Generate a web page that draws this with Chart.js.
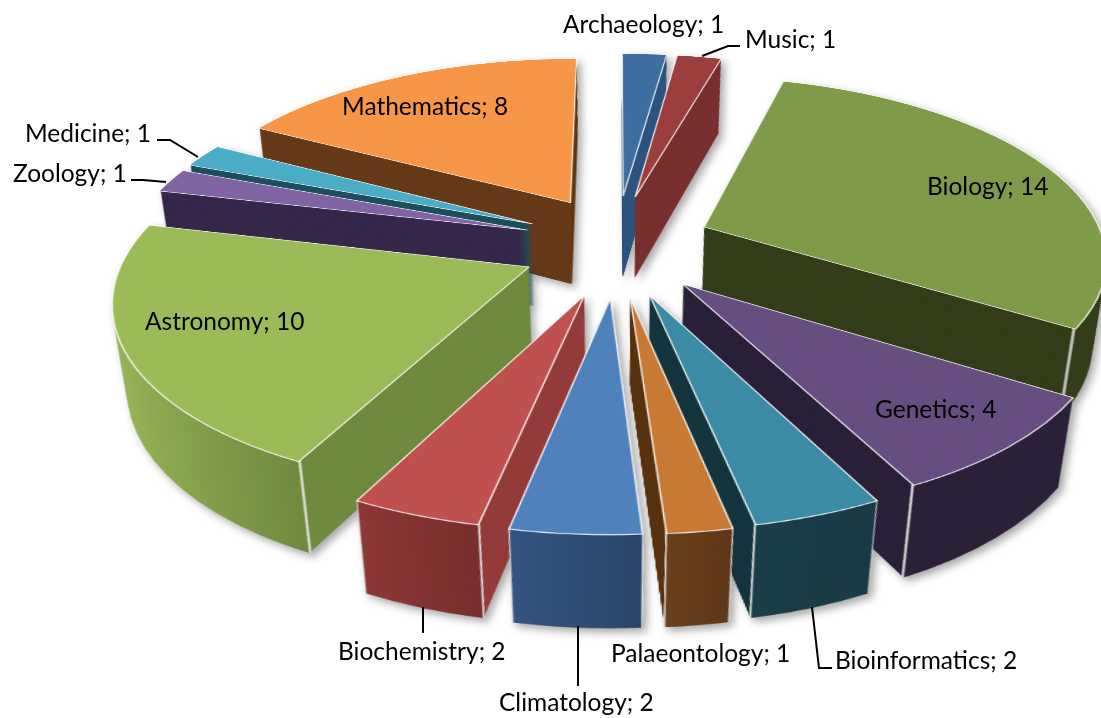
<!DOCTYPE html>
<html>
<head>
<meta charset="utf-8">
<title>Subjects</title>
<script src="https://cdn.jsdelivr.net/npm/chart.js@4"></script>
<style>
html, body { margin: 0; padding: 0; background: #fff; }
#stage { position: absolute; left: 0; top: 0; width: 1101px; height: 718px; overflow: hidden; }
#pie3d { position: absolute; left: 0; top: 0; width: 1101px; height: 718px; overflow: hidden;
    filter: drop-shadow(4px 4px 4px rgba(0,0,0,0.35)); }
#mychart { position: absolute; left: -83px; top: -455px; transform-origin: 50% 50%;
    transform: perspective(2250px) rotateX(63.4deg); }
#leaders { position: absolute; left: 0; top: 0; }
.lbl { position: absolute; font: 24.5px Lato, sans-serif; color: #000; white-space: nowrap; line-height: 28px; }
</style>
</head>
<body>
<div id="stage">
    <div id="pie3d"><canvas id="mychart" width="1400" height="1400"></canvas></div>
    <svg id="leaders" width="1101" height="718"></svg>
</div>
<script>
const categories = ['Archaeology', 'Music', 'Biology', 'Genetics', 'Bioinformatics', 'Palaeontology',
    'Climatology', 'Biochemistry', 'Astronomy', 'Zoology', 'Medicine', 'Mathematics'];
const counts = [1, 1, 14, 4, 2, 1, 2, 2, 10, 1, 1, 8];

const topColors = ['#3e6da0', '#9b3e3d', '#7f9a48', '#674e80', '#3a8ba3', '#c87a34',
    '#4f81bd', '#c0504d', '#9bbb59', '#8064a2', '#4bacc6', '#f79646'];
const sideColors = ['#2f5580', '#7a3030', '#333d19', '#2a2038', '#16363f', '#5a3512',
    '#2f4d72', '#943c3a', '#6f8a3f', '#36284a', '#1d4f5c', '#663a18'];
const rimFrom = ['#2f5580', '#7a3030', '#333d19', '#2a2038', '#1a3e49', '#6a3f1b',
    '#335580', '#8c3735', '#9ab85a', '#36284a', '#1d4f5c', '#663a18'];
const rimTo = ['#2f5580', '#7a3030', '#333d19', '#2a2038', '#183a45', '#5f3717',
    '#2a4568', '#782e2c', '#6f8a3f', '#36284a', '#1d4f5c', '#663a18'];

// where the labels sit on the page
const labelPos = [[563, 10], [745, 25], [927, 172], [875, 395], [835, 646], [611, 639],
    [499, 688], [338, 637], [145, 307], [13, 159], [25, 119], [342, 92]];
const leaderLines = ['702,56 728,46 740,46', '812,607 819,668 832,668', '578,626 578,686',
    '423,607 423,633', '166,182 143,180 131,180', '198,157 170,140 157,140'];

const explodeX = 95;
const explodeY = 114;
const depth = 173;
const shrink = 0.095;

function ghost(arc, color, props) {
    const g = Object.create(arc);
    Object.assign(g, props);
    g.options = { backgroundColor: color, borderColor: color, borderWidth: 0, borderAlign: 'center', offset: 0,
        spacing: 0, circular: true, borderRadius: 0, borderJoinStyle: 'round', borderDash: [], borderDashOffset: 0 };
    return g;
}

const explodePlugin = {
    id: 'explode',
    afterDatasetsUpdate(chart) {
        chart.getDatasetMeta(0).data.forEach(arc => {
            const mid = (arc.startAngle + arc.endAngle) / 2;
            arc.x += Math.cos(mid) * explodeX;
            arc.y += Math.sin(mid) * explodeY;
        });
    }
};

const wallPlugin = {
    id: 'walls',
    beforeDatasetsDraw(chart) {
        const ctx = chart.ctx;
        const cx = chart.width / 2, cy = chart.height / 2;
        const arcs = chart.getDatasetMeta(0).data.map((arc, i) => ({ arc, i }));
        arcs.sort((a, b) => Math.sin((a.arc.startAngle + a.arc.endAngle) / 2) - Math.sin((b.arc.startAngle + b.arc.endAngle) / 2));
        arcs.forEach(({ arc, i }) => {
            const r = arc.outerRadius;
            const a0 = Math.max(arc.startAngle, 0), a1 = Math.min(arc.endAngle, Math.PI);
            const grad = ctx.createLinearGradient(arc.x + Math.cos(a1) * r, 0, arc.x + Math.cos(a0) * r, 0);
            grad.addColorStop(0, rimFrom[i]);
            grad.addColorStop(1, rimTo[i]);
            const side = ghost(arc, sideColors[i], { outerRadius: r - 1.5 });
            const rim = a1 > a0 ? ghost(arc, grad, { startAngle: a0, endAngle: a1, circumference: a1 - a0, innerRadius: r - 5 }) : null;
            const edges = [];
            [arc.startAngle, arc.endAngle].forEach(a => {
                if (Math.sin(a) > -0.05) {
                    edges.push(ghost(arc, 'rgba(235,235,235,0.75)', { startAngle: a - 0.0015, endAngle: a + 0.0015, circumference: 0.003, innerRadius: r - 3 }));
                }
            });
            for (let d = depth; d >= 0; d -= 1) {
                const k = 1 - shrink * d / depth;
                ctx.save();
                ctx.translate(cx, cy + d);
                ctx.scale(k, k);
                ctx.translate(-cx, -cy);
                side.draw(ctx);
                if (rim) rim.draw(ctx);
                edges.forEach(e => e.draw(ctx));
                ctx.restore();
            }
        });
    }
};

new Chart(document.getElementById('mychart'), {
    type: 'pie',
    data: {
        labels: categories,
        datasets: [{
            data: counts,
            backgroundColor: topColors,
            borderColor: 'rgba(255,255,255,0.85)',
            borderWidth: 1.5,
        }]
    },
    options: {
        responsive: false,
        animation: false,
        radius: 401,
        plugins: {
            legend: { display: false },
            tooltip: { enabled: false },
        },
    },
    plugins: [explodePlugin, wallPlugin],
});

const stage = document.getElementById('stage');
categories.forEach((name, i) => {
    const el = document.createElement('div');
    el.className = 'lbl';
    el.textContent = name + '; ' + counts[i];
    el.style.left = labelPos[i][0] + 'px';
    el.style.top = labelPos[i][1] + 'px';
    stage.appendChild(el);
});

const svg = document.getElementById('leaders');
leaderLines.forEach(pts => {
    const line = document.createElementNS('http://www.w3.org/2000/svg', 'polyline');
    line.setAttribute('points', pts);
    line.setAttribute('fill', 'none');
    line.setAttribute('stroke', '#000');
    line.setAttribute('stroke-width', '2');
    svg.appendChild(line);
});
</script>
</body>
</html>
